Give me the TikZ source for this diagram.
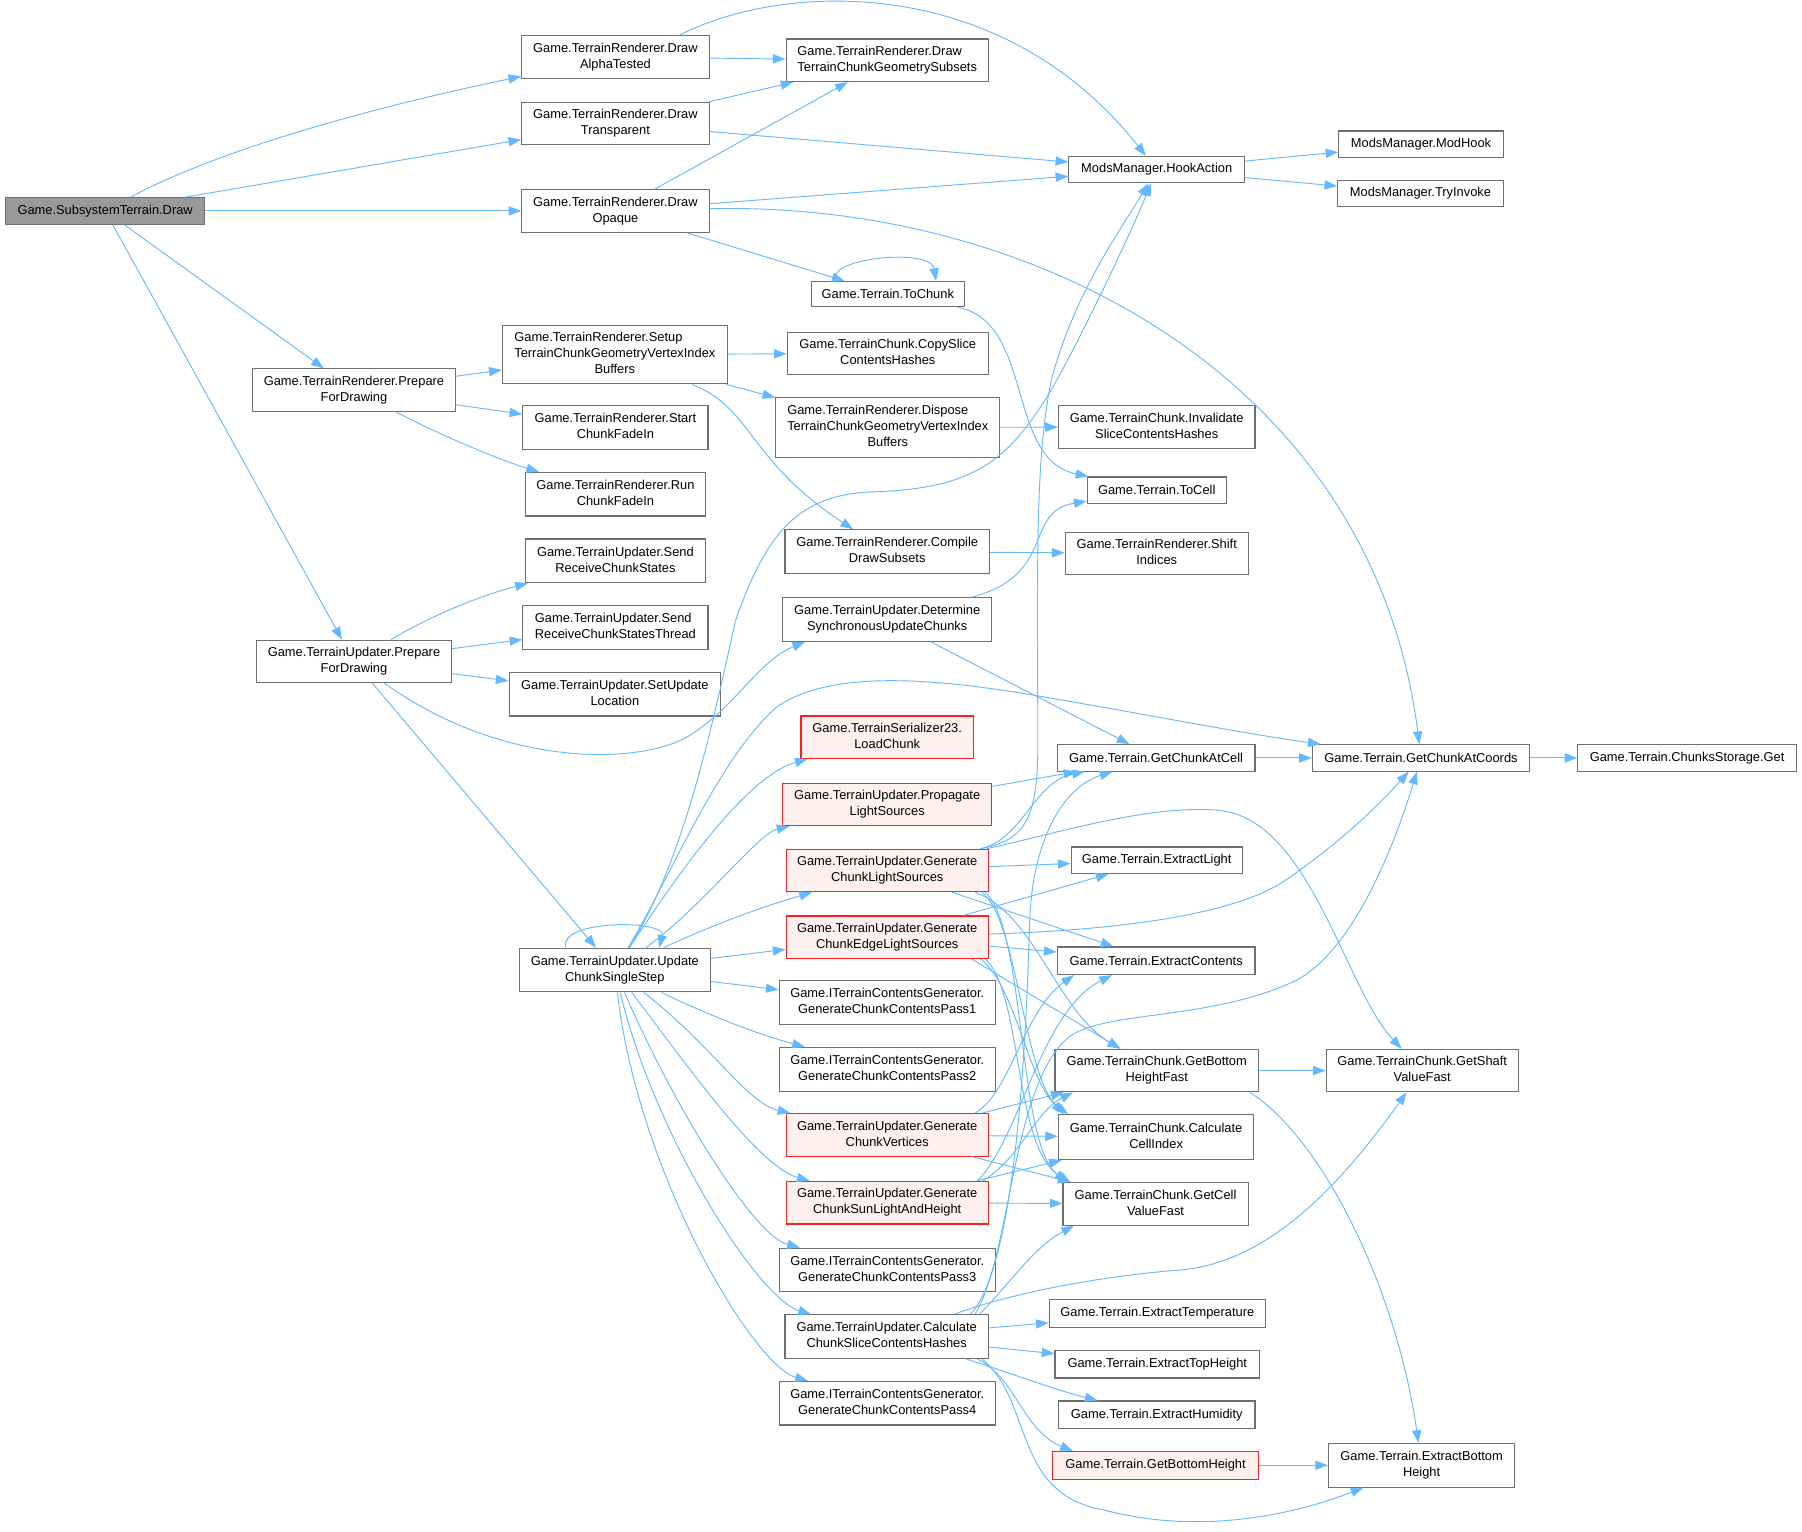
\documentclass[tikz,border=0pt]{standalone}
\usepackage{fontspec}
\setmainfont{Liberation Sans}
\usetikzlibrary{arrows.meta,calc}
\definecolor{edgeblue}{RGB}{99,184,255}
\definecolor{boxgray}{RGB}{110,110,110}
\definecolor{boxred}{RGB}{255,30,30}
\definecolor{redfill}{RGB}{255,240,240}
\definecolor{rootfill}{RGB}{153,153,153}
\newcommand{\twoline}[2]{\begin{tabular}{@{}l@{}}#1\\\multicolumn{1}{@{}c@{}}{#2}\end{tabular}}
\newcommand{\threeline}[3]{\begin{tabular}{@{}l@{}}#1\\#2\\\multicolumn{1}{@{}c@{}}{#3}\end{tabular}}
\tikzset{
  nd/.style={draw=boxgray, line width=1pt, fill=white, inner sep=0pt, text=black,
    font=\fontsize{11.2}{14}\selectfont},
  rednd/.style={nd, draw=boxred, fill=redfill},
  rootnd/.style={nd, fill=rootfill},
  sz/.style 2 args={minimum width=#1, minimum height=#2},
  ce/.style={draw=edgeblue, line width=0.8pt, -{Triangle[length=11pt,width=8pt]}},
}
\begin{document}
\begin{tikzpicture}[x=1pt,y=-1pt]
\useasboundingbox (0,0) rectangle (1568,1333);
\fill[white] (0,0) rectangle (1568,1333);

% column 1
\node[rootnd, sz={173}{23}] (A) at (91.5,183.5) {Game.SubsystemTerrain.Draw};
% column 2
\node[nd, sz={163}{37}] (B1) at (535.5,49.5) {\twoline{Game.TerrainRenderer.Draw}{AlphaTested}};
\node[nd, sz={163}{37}] (B2) at (535.5,107.5) {\twoline{Game.TerrainRenderer.Draw}{Transparent}};
\node[nd, sz={163}{37}] (B3) at (535.5,183.5) {\twoline{Game.TerrainRenderer.Draw}{Opaque}};
\node[nd, sz={176}{37}] (C1) at (308,339.5) {\twoline{Game.TerrainRenderer.Prepare}{ForDrawing}};
\node[nd, sz={170}{37}] (C2) at (308,575.5) {\twoline{Game.TerrainUpdater.Prepare}{ForDrawing}};
% column 3
\node[nd, sz={196}{51}] (D1) at (535,308.5) {\threeline{Game.TerrainRenderer.Setup}{TerrainChunkGeometryVertexIndex}{Buffers}};
\node[nd, sz={161}{38}] (D2) at (535.5,372) {\twoline{Game.TerrainRenderer.Start}{ChunkFadeIn}};
\node[nd, sz={157}{38}] (D3) at (535.5,430) {\twoline{Game.TerrainRenderer.Run}{ChunkFadeIn}};
\node[nd, sz={157}{38}] (D4) at (535.5,488) {\twoline{Game.TerrainUpdater.Send}{ReceiveChunkStates}};
\node[nd, sz={161}{38}] (D5) at (535.5,546) {\twoline{Game.TerrainUpdater.Send}{ReceiveChunkStatesThread}};
\node[nd, sz={184}{38}] (D6) at (535,604) {\twoline{Game.TerrainUpdater.SetUpdate}{Location}};
\node[nd, sz={166}{38}] (E) at (535,844) {\twoline{Game.TerrainUpdater.Update}{ChunkSingleStep}};
% column 4
\node[nd, sz={176}{37}] (F1) at (772,52.5) {\twoline{Game.TerrainRenderer.Draw}{TerrainChunkGeometrySubsets}};
\node[nd, sz={133}{22}] (F2) at (772.5,256) {Game.Terrain.ToChunk};
\node[nd, sz={175}{37}] (F3) at (772.5,307.5) {\twoline{Game.TerrainChunk.CopySlice}{ContentsHashes}};
\node[nd, sz={195}{52}] (F4) at (772.5,372) {\threeline{Game.TerrainRenderer.Dispose}{TerrainChunkGeometryVertexIndex}{Buffers}};
\node[nd, sz={178}{38}] (F5) at (772,480) {\twoline{Game.TerrainRenderer.Compile}{DrawSubsets}};
\node[nd, sz={182}{38}] (F6) at (772,539) {\twoline{Game.TerrainUpdater.Determine}{SynchronousUpdateChunks}};
\node[rednd, sz={150}{37}] (F7) at (772,641.5) {\twoline{Game.TerrainSerializer23.}{LoadChunk}};
\node[rednd, sz={182}{37}] (F8) at (772,700) {\twoline{Game.TerrainUpdater.Propagate}{LightSources}};
\node[rednd, sz={176}{37}] (F9) at (772,757.5) {\twoline{Game.TerrainUpdater.Generate}{ChunkLightSources}};
\node[rednd, sz={176}{37}] (F10) at (772,815.5) {\twoline{Game.TerrainUpdater.Generate}{ChunkEdgeLightSources}};
\node[nd, sz={188}{38}] (F11) at (772,872.5) {\twoline{Game.ITerrainContentsGenerator.}{GenerateChunkContentsPass1}};
\node[nd, sz={188}{38}] (F12) at (772,930.5) {\twoline{Game.ITerrainContentsGenerator.}{GenerateChunkContentsPass2}};
\node[rednd, sz={176}{37}] (F13) at (772,987.5) {\twoline{Game.TerrainUpdater.Generate}{ChunkVertices}};
\node[rednd, sz={176}{37}] (F14) at (772,1046.5) {\twoline{Game.TerrainUpdater.Generate}{ChunkSunLightAndHeight}};
\node[nd, sz={188}{38}] (F15) at (772,1105) {\twoline{Game.ITerrainContentsGenerator.}{GenerateChunkContentsPass3}};
\node[nd, sz={177}{38}] (F16) at (771.5,1163) {\twoline{Game.TerrainUpdater.Calculate}{ChunkSliceContentsHashes}};
\node[nd, sz={188}{38}] (F17) at (772,1221) {\twoline{Game.ITerrainContentsGenerator.}{GenerateChunkContentsPass4}};
% column 5
\node[nd, sz={153}{23}] (G1) at (1006.5,147.5) {ModsManager.HookAction};
\node[nd, sz={171}{37}] (G2) at (1006.5,371.5) {\twoline{Game.TerrainChunk.Invalidate}{SliceContentsHashes}};
\node[nd, sz={121}{23}] (G3) at (1006.5,426.5) {Game.Terrain.ToCell};
\node[nd, sz={159}{37}] (G4) at (1006.5,481.5) {\twoline{Game.TerrainRenderer.Shift}{Indices}};
\node[nd, sz={172}{23}] (G5) at (1006,659.5) {Game.Terrain.GetChunkAtCell};
\node[nd, sz={149}{23}] (G6) at (1006.5,748.5) {Game.Terrain.ExtractLight};
\node[nd, sz={172}{24}] (G7) at (1006,836) {Game.Terrain.ExtractContents};
\node[nd, sz={177}{37}] (G8) at (1006.5,931.5) {\twoline{Game.TerrainChunk.GetBottom}{HeightFast}};
\node[nd, sz={170}{39}] (G9) at (1006,989.5) {\twoline{Game.TerrainChunk.Calculate}{CellIndex}};
\node[nd, sz={161}{37}] (G10) at (1005.5,1047.5) {\twoline{Game.TerrainChunk.GetCell}{ValueFast}};
\node[nd, sz={188}{24}] (G11) at (1007,1143) {Game.Terrain.ExtractTemperature};
\node[nd, sz={178}{24}] (G12) at (1007,1187) {Game.Terrain.ExtractTopHeight};
\node[nd, sz={171}{24}] (G13) at (1006.5,1231) {Game.Terrain.ExtractHumidity};
\node[rednd, sz={179}{24}] (G14) at (1005.5,1275) {Game.Terrain.GetBottomHeight};
% column 6
\node[nd, sz={143}{23}] (H1) at (1236.5,125.5) {ModsManager.ModHook};
\node[nd, sz={144}{23}] (H2) at (1236,168.5) {ModsManager.TryInvoke};
\node[nd, sz={189}{23}] (H3) at (1236.5,659.5) {Game.Terrain.GetChunkAtCoords};
\node[nd, sz={167}{37}] (H4) at (1237.5,931.5) {\twoline{Game.TerrainChunk.GetShaft}{ValueFast}};
\node[nd, sz={162}{38}] (H5) at (1237,1275) {\twoline{Game.Terrain.ExtractBottom}{Height}};
% column 7
\node[nd, sz={190}{23}] (I1) at (1468,659.5) {Game.Terrain.ChunksStorage.Get};

% ---- edges from root
\draw[ce] (A) .. controls (200,125) and (350,88) .. (B1);
\draw[ce] (A) -- (B2);
\draw[ce] (A) -- (B3);
\draw[ce] (A) -- (C1);
\draw[ce] (A) -- (C2);
% ---- draw functions
\draw[ce] (B1) -- (F1);
\draw[ce] ($(B1.north)+(56,0)$) .. controls (680,-15) and (870,-25) .. (G1);
\draw[ce] (B2) -- (F1);
\draw[ce] (B2) -- (G1);
\draw[ce] (B3) -- (F1);
\draw[ce] (B3) -- (G1);
\draw[ce] (B3) -- (F2);
\draw[ce] (B3) .. controls (900,175) and (1195,330) .. (H3);
\draw[ce] (G1) -- (H1);
\draw[ce] (G1) -- (H2);
% ---- prepare for drawing
\draw[ce] (C1) -- (D1);
\draw[ce] (C1) -- (D2);
\draw[ce] (C1) .. controls (390,382) and (440,402) .. (D3);
\draw[ce] (C2) .. controls (385,530) and (430,515) .. (D4);
\draw[ce] (C2) -- (D5);
\draw[ce] (C2) -- (D6);
\draw[ce] (C2) .. controls (440,670) and (560,665) .. (600,640) .. controls (640,615) and (660,575) .. ($(F6.south west)+(20,0)$);
\draw[ce] (C2) -- (E);
\draw[ce] (D1) -- (F3);
\draw[ce] (D1) -- (F4);
\draw[ce] (D1) .. controls (655,355) and (650,400) .. (F5);
\draw[ce] (F4) -- (G2);
\draw[ce] (F5) -- (G4);
\draw[ce] ($(F2.north west)+(23,0)$) .. controls (715,225) and (810,215) .. ($(F2.north east)+(-25,0)$);
\draw[ce] (F2) .. controls (900,280) and (875,400) .. (G3);
\draw[ce] (F6) .. controls (920,500) and (890,445) .. (G3);
\draw[ce] (F6) -- (G5);
% ---- update chunk single step
\draw[ce] ($(E.north west)+(41,0)$) .. controls (485,800) and (580,800) .. ($(E.north west)+(122,0)$);
\draw[ce] (E) .. controls (595,750) and (620,630) .. (640,540) .. controls (665,470) and (690,430) .. (760,428) .. controls (850,425) and (880,400) .. (920,330) .. controls (950,275) and (985,200) .. (G1);
\draw[ce] (E) .. controls (585,760) and (625,660) .. (676,615) .. controls (720,585) and (800,588) .. (900,605) .. controls (1000,622) and (1080,638) .. (H3);
\draw[ce] (E) .. controls (590,760) and (650,675) .. (F7);
\draw[ce] (E) .. controls (610,790) and (660,725) .. (F8);
\draw[ce] (E) .. controls (620,805) and (660,790) .. (F9);
\draw[ce] (E) -- (F10);
\draw[ce] (E) -- (F11);
\draw[ce] (E) .. controls (620,885) and (660,900) .. (F12);
\draw[ce] (E) .. controls (620,910) and (650,960) .. (F13);
\draw[ce] (E) .. controls (600,930) and (660,1015) .. (F14);
\draw[ce] (E) .. controls (585,960) and (655,1075) .. (F15);
\draw[ce] (E) .. controls (570,990) and (660,1130) .. (F16);
\draw[ce] (E) .. controls (555,1020) and (655,1188) .. (F17);
% ---- right part
\draw[ce] (G5) -- (H3);
\draw[ce] (H3) -- (I1);
\draw[ce] (F8) -- (G5);
% F9
\draw[ce] ($(F9.north east)+(-8,0)$) .. controls (890,732) and (903,715) .. (903,650) .. controls (903,500) and (900,400) .. (915,330) .. controls (935,255) and (975,200) .. (G1);
\draw[ce] (F9) .. controls (890,730) and (900,680) .. (G5);
\draw[ce] (F9) .. controls (920,725) and (1000,700) .. (1060,705) .. controls (1140,712) and (1170,860) .. (H4);
\draw[ce] (F9) -- (G6);
\draw[ce] (F9) -- (G7);
\draw[ce] ($(F9.south east)+(-12,0)$) .. controls (900,795) and (920,880) .. (G8);
\draw[ce] ($(F9.south east)+(-6,0)$) .. controls (885,800) and (890,930) .. ($(G9.north west)+(5,0)$);
\draw[ce] ($(F9.south east)+(-3,0)$) .. controls (893,810) and (885,995) .. ($(G10.north west)+(4,0)$);
% F10
\draw[ce] (F10) -- (G6);
\draw[ce] (F10) .. controls (950,810) and (1070,800) .. (1120,765) .. controls (1170,730) and (1200,700) .. (H3);
\draw[ce] (F10) -- (G7);
\draw[ce] ($(F10.south east)+(-15,0)$) -- (G8);
\draw[ce] ($(F10.south east)+(-7,0)$) .. controls (885,860) and (895,945) .. ($(G9.north west)+(9,0)$);
\draw[ce] ($(F10.south east)+(-3,0)$) .. controls (890,865) and (882,1000) .. ($(G10.north west)+(7,0)$);
% F13
\draw[ce] ($(F13.north east)+(-12,0)$) .. controls (880,950) and (890,880) .. ($(G7.south west)+(15,0)$);
\draw[ce] ($(F13.north east)+(-6,0)$) -- ($(G8.south west)+(8,0)$);
\draw[ce] (F13) -- (G9);
\draw[ce] (F13) -- (G10);
% F14
\draw[ce] ($(F14.north east)+(-10,0)$) .. controls (888,990) and (905,880) .. ($(G7.south west)+(48,0)$);
\draw[ce] ($(F14.north east)+(-5,0)$) .. controls (890,1005) and (900,968) .. ($(G8.south west)+(16,0)$);
\draw[ce] (F14) -- (G9);
\draw[ce] (F14) -- (G10);
% F16
\draw[ce] ($(F16.north east)+(-16,0)$) .. controls (885,1100) and (893,900) .. (896,800) .. controls (899,730) and (925,685) .. (G5);
\draw[ce] ($(F16.north east)+(-12,0)$) .. controls (880,1090) and (880,950) .. (927,905) .. controls (955,878) and (1050,890) .. (1128,853) .. controls (1180,825) and (1215,730) .. (H3);
\draw[ce] ($(F16.north east)+(-30,0)$) .. controls (880,1125) and (960,1110) .. (1028,1105) .. controls (1100,1098) and (1160,1040) .. (H4);
\draw[ce] ($(F16.north east)+(-8,0)$) .. controls (880,1115) and (900,1085) .. ($(G10.south west)+(10,0)$);
\draw[ce] (F16) -- (G11);
\draw[ce] (F16) -- (G12);
\draw[ce] ($(F16.south east)+(-20,0)$) .. controls (880,1195) and (920,1210) .. (G13);
\draw[ce] ($(F16.south east)+(-10,0)$) .. controls (885,1200) and (890,1245) .. ($(G14.north west)+(18,0)$);
\draw[ce] ($(F16.south east)+(-6,0)$) .. controls (900,1220) and (880,1300) .. (961,1314) .. controls (1040,1335) and (1120,1320) .. (H5);
% bottom right
\draw[ce] (G8) -- (H4);
\draw[ce] ($(G8.south east)+(-8,0)$) .. controls (1150,990) and (1215,1120) .. (H5);
\draw[ce] (G14) -- (H5);
\end{tikzpicture}
\end{document}
